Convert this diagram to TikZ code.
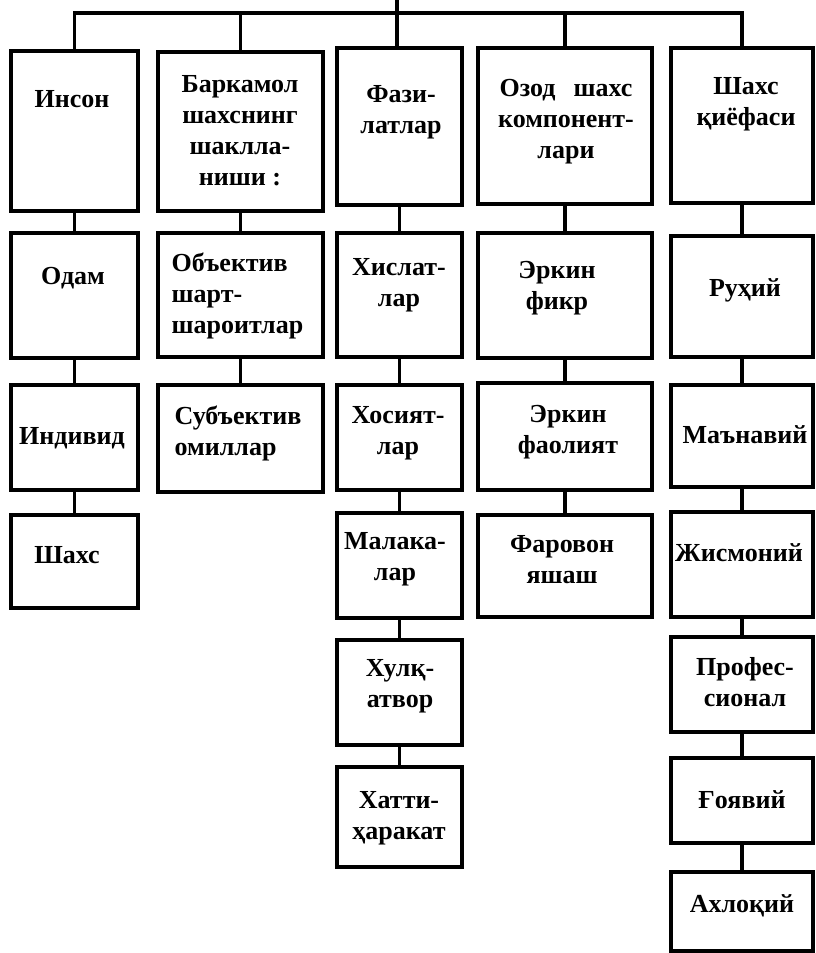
\documentclass[tikz,border=0pt]{standalone}
\usepackage{fontspec}
\setmainfont{Liberation Serif}
\usetikzlibrary{fit}

\begin{document}
\begin{tikzpicture}[x=0.5pt, y=-0.5pt, line width=1.7pt,
	box/.style={draw, line width=1.7pt, inner sep=0pt},
	lbl/.style={font=\fontsize{13}{15.5}\selectfont\bfseries, align=center, inner sep=0pt}]
	\useasboundingbox (0,0) rectangle (815,953);

	% first column
	\node[box, fit={(11,51) (138,211)}] (inson) {};
	\node[box, fit={(11,233) (138,358)}] (odam) {};
	\node[box, fit={(11,385) (138,490)}] (individ) {};
	\node[box, fit={(11,515) (138,608)}] (shaxs) {};
	\node[lbl] (inson-t) at (72,99) {Инсон};
	\node[lbl] (odam-t) at (73,278) {Одам};
	\node[lbl] (individ-t) at (72,438) {Индивид};
	\node[lbl] (shaxs-t) at (67,555) {Шахс};

	% second column
	\node[box, fit={(158,52) (323,211)}] (barkamol) {};
	\node[box, fit={(158,233) (323,357)}] (obyektiv) {};
	\node[box, fit={(158,385) (323,492)}] (subyektiv) {};
	\node[lbl] (barkamol-t) at (240,131) {Баркамол\\шахснинг\\шаклла-\\ниши :};
	\node[lbl, align=left, anchor=west] (obyektiv-t) at (170,296) {Объектив\\шарт-\\шароитлар};
	\node[lbl, align=left, anchor=west] (subyektiv-t) at (173,433) {Субъектив\\омиллар};

	% third column
	\node[box, fit={(337,48) (462,205)}] (fazilat) {};
	\node[box, fit={(337,233) (462,357)}] (xislat) {};
	\node[box, fit={(337,385) (462,490)}] (xosiyat) {};
	\node[box, fit={(337,513) (462,618)}] (malaka) {};
	\node[box, fit={(337,640) (462,745)}] (xulq) {};
	\node[box, fit={(337,767) (462,867)}] (xatti) {};
	\node[lbl] (fazilat-t) at (401,112) {Фази-\\латлар};
	\node[lbl] (xislat-t) at (399,285) {Хислат-\\лар};
	\node[lbl] (xosiyat-t) at (398,433) {Хосият-\\лар};
	\node[lbl] (malaka-t) at (395,559) {Малака-\\лар};
	\node[lbl] (xulq-t) at (400,686) {Хулқ-\\атвор};
	\node[lbl] (xatti-t) at (399,818) {Хатти-\\ҳаракат};

	% fourth column
	\node[box, fit={(478,48) (652,204)}] (ozod) {};
	\node[box, fit={(478,233) (652,358)}] (fikr) {};
	\node[box, fit={(478,383) (652,490)}] (faoliyat) {};
	\node[box, fit={(478,515) (652,617)}] (farovon) {};
	\node[lbl] (ozod-t) at (566,122) {Озод\hspace{.7em}шахс\\компонент-\\лари};
	\node[lbl] (fikr-t) at (557,288) {Эркин\\фикр};
	\node[lbl] (faoliyat-t) at (568,432) {Эркин\\фаолият};
	\node[lbl] (farovon-t) at (562,560) {Фаровон\\яшаш};

	% fifth column
	\node[box, fit={(671,48) (813,203)}] (qiyofa) {};
	\node[box, fit={(671,236) (813,357)}] (ruhiy) {};
	\node[box, fit={(671,385) (813,487)}] (manaviy) {};
	\node[box, fit={(671,512) (813,617)}] (jismoniy) {};
	\node[box, fit={(671,637) (813,732)}] (profess) {};
	\node[box, fit={(671,758) (813,843)}] (goyaviy) {};
	\node[box, fit={(671,872) (813,951)}] (axloqiy) {};
	\node[lbl] (qiyofa-t) at (746,104) {Шахс\\қиёфаси};
	\node[lbl] (ruhiy-t) at (745,290) {Руҳий};
	\node[lbl] (manaviy-t) at (745,435) {Маънавий};
	\node[lbl] (jismoniy-t) at (739,553) {Жисмоний};
	\node[lbl] (profess-t) at (745,682) {Профес-\\сионал};
	\node[lbl] (goyaviy-t) at (742,800) {Ғоявий};
	\node[lbl] (axloqiy-t) at (742,906) {Ахлоқий};

	% top bus
	\coordinate (root) at (397,0);
	\coordinate (bus) at (397,13);
	\draw (root) -- (root |- fazilat.north);
	\draw (inson) |- (bus) -| (qiyofa);
	\draw (barkamol) -- (barkamol |- bus);
	\draw (ozod) -- (ozod |- bus);

	% columns
	\draw (inson) -- (odam);
	\draw (odam) -- (individ);
	\draw (individ) -- (shaxs);
	\draw (barkamol) -- (obyektiv);
	\draw (obyektiv) -- (subyektiv);
	\draw (fazilat) -- (xislat);
	\draw (xislat) -- (xosiyat);
	\draw (xosiyat) -- (malaka);
	\draw (malaka) -- (xulq);
	\draw (xulq) -- (xatti);
	\draw (ozod) -- (fikr);
	\draw (fikr) -- (faoliyat);
	\draw (faoliyat) -- (farovon);
	\draw (qiyofa) -- (ruhiy);
	\draw (ruhiy) -- (manaviy);
	\draw (manaviy) -- (jismoniy);
	\draw (jismoniy) -- (profess);
	\draw (profess) -- (goyaviy);
	\draw (goyaviy) -- (axloqiy);
\end{tikzpicture}
\end{document}
